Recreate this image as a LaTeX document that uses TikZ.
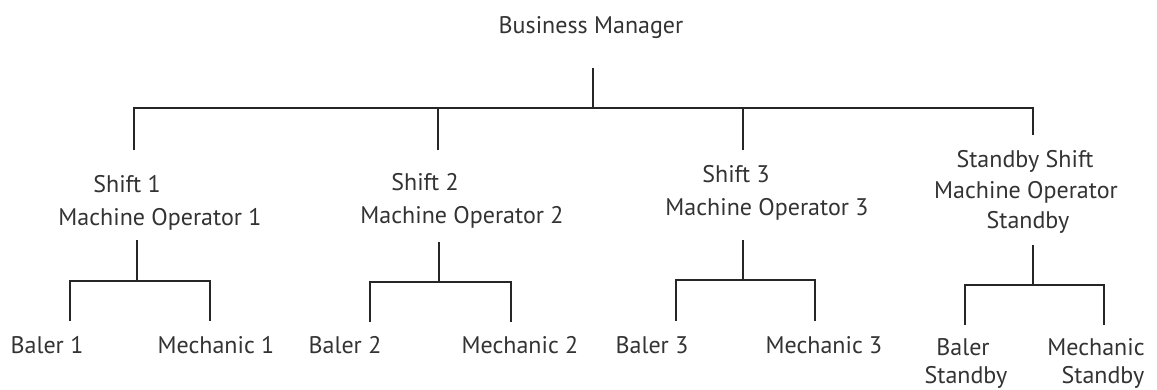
\documentclass[tikz,border=0pt]{standalone}
\usepackage{fontspec}
\setmainfont{PT Sans}
\begin{document}
\begin{tikzpicture}[x=1pt,y=-1pt,
  lbl/.style={inner sep=0pt,anchor=base,font=\fontsize{24}{30}\selectfont,text=black!80},
  ln/.style={draw=black!85,line width=1.8pt}]
\useasboundingbox[fill=white] (0,0) rectangle (1157,389);
% texts (centre x, baseline y)
\node[lbl] (bm) at (591,33) {Business Manager};
\node[lbl] (s1) at (127,192) {Shift 1};
\node[lbl] (o1) at (160,225) {Machine Operator 1};
\node[lbl] (s2) at (425,190) {Shift 2};
\node[lbl] (o2) at (462,223) {Machine Operator 2};
\node[lbl] (s3) at (736,182) {Shift 3};
\node[lbl] (o3) at (767,215) {Machine Operator 3};
\node[lbl] (s4) at (1025,167) {Standby Shift};
\node[lbl] (o4) at (1026,198) {Machine Operator};
\node[lbl] (o4b) at (1028,228) {Standby};
\node[lbl] (b1) at (47,353) {Baler 1};
\node[lbl] (m1) at (216,353) {Mechanic 1};
\node[lbl] (b2) at (345,353) {Baler 2};
\node[lbl] (m2) at (520,353) {Mechanic 2};
\node[lbl] (b3) at (652,353) {Baler 3};
\node[lbl] (m3) at (824,353) {Mechanic 3};
\node[lbl] (b4) at (963,355) {Baler};
\node[lbl] (b4b) at (966,383) {Standby};
\node[lbl] (m4) at (1096,355) {Mechanic};
\node[lbl] (m4b) at (1103,383) {Standby};
% junction coordinates
\coordinate (bmt) at (593,68);
\coordinate (bmj) at (593,108);
\coordinate (h1) at (134,108);
\coordinate (h2) at (438,108);
\coordinate (h3) at (743,108);
\coordinate (h4) at (1033,108);
\coordinate (s1t) at (134,150);
\coordinate (s2t) at (438,150);
\coordinate (s3t) at (743,150);
\coordinate (s4t) at (1033,135);
% top tree
\draw[ln] (bmt) -- (bmj);
\draw[ln] (s1t) -- (h1) -- (h4) -- (s4t);
\draw[ln] (h2) -- (s2t);
\draw[ln] (h3) -- (s3t);
% shift 1
\coordinate (a1) at (137,240); \coordinate (j1) at (137,281);
\coordinate (l1) at (70,281); \coordinate (r1) at (210,281);
\coordinate (l1b) at (70,321); \coordinate (r1b) at (210,321);
\draw[ln] (a1) -- (j1);
\draw[ln] (l1b) -- (l1) -- (r1) -- (r1b);
% shift 2
\coordinate (a2) at (439,242); \coordinate (j2) at (439,282);
\coordinate (l2) at (370,282); \coordinate (r2) at (511,282);
\coordinate (l2b) at (370,322); \coordinate (r2b) at (511,322);
\draw[ln] (a2) -- (j2);
\draw[ln] (l2b) -- (l2) -- (r2) -- (r2b);
% shift 3
\coordinate (a3) at (743,240); \coordinate (j3) at (743,280);
\coordinate (l3) at (676,280); \coordinate (r3) at (815,280);
\coordinate (l3b) at (676,321); \coordinate (r3b) at (815,321);
\draw[ln] (a3) -- (j3);
\draw[ln] (l3b) -- (l3) -- (r3) -- (r3b);
% standby
\coordinate (a4) at (1033,245); \coordinate (j4) at (1033,285);
\coordinate (l4) at (965,285); \coordinate (r4) at (1104,285);
\coordinate (l4b) at (965,325); \coordinate (r4b) at (1104,325);
\draw[ln] (a4) -- (j4);
\draw[ln] (l4b) -- (l4) -- (r4) -- (r4b);
\end{tikzpicture}
\end{document}
